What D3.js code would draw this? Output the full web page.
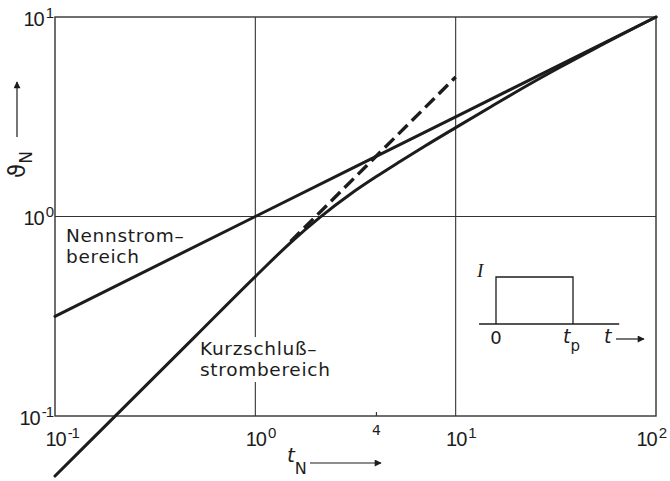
<!DOCTYPE html>
<html lang="de">
<head>
<meta charset="UTF-8">
<title>Erwärmung bei Rechteckimpuls</title>
<script src="https://d3js.org/d3.v7.min.js"></script>
<style>
  body { margin: 0; background: #fff; }
  svg { display: block; font-family: 'DejaVu Sans', sans-serif; }
</style>
</head>
<body>
<svg width="670" height="481"></svg>
<script>
// Achsen
const xTicks = [0.1, 1, 10, 100];
const xTickExp = ["-1", "0", "1", "2"];
const yTicks = [0.1, 1, 10];
const yTickExp = ["-1", "0", "1"];
const markTicks = [4];

// Nennstrombereich (Gerade)
const nennT = [0.1, 1, 10, 100];
const nennTheta = [0.316, 1, 3.16, 10];

// Kurzschlussstrombereich (Kurve)
const kurzT = [0.1, 0.5, 1, 1.5, 2.1, 3, 4, 5.25, 7, 10, 15, 23, 33, 50, 100];
const kurzTheta = [0.05, 0.25, 0.5, 0.74, 0.99, 1.3, 1.58, 1.88, 2.25, 2.79, 3.55, 4.56, 5.58, 6.98, 10];

// gestrichelte Verlängerung
const dashT = [1.5, 10];
const dashTheta = [0.75, 5];

// Einschub: Rechteckimpuls
const pulseT = [0, 0, 1, 1];
const pulseI = [0, 1, 1, 0];

const svg = d3.select("svg");

const x = d3.scaleLog().domain([0.1, 100]).range([55, 656]);
const y = d3.scaleLog().domain([0.1, 10]).range([416, 17]);

const ink = "#1c1c1c";

// arrow marker
svg.append("defs").append("marker")
    .attr("id", "arr")
    .attr("viewBox", "0 0 10 10")
    .attr("refX", 9).attr("refY", 5)
    .attr("markerWidth", 9).attr("markerHeight", 7)
    .attr("markerUnits", "userSpaceOnUse")
    .attr("orient", "auto")
    .append("path").attr("d", "M0,0 L10,5 L0,10 Z").attr("fill", ink);

// gridlines
const grid = svg.append("g").attr("stroke", "#333").attr("stroke-width", 1.1);
grid.selectAll(".vx").data([1, 10]).join("line")
    .attr("x1", d => x(d)).attr("x2", d => x(d))
    .attr("y1", y(10)).attr("y2", y(0.1));
grid.selectAll(".hy").data([1]).join("line")
    .attr("y1", d => y(d)).attr("y2", d => y(d))
    .attr("x1", x(0.1)).attr("x2", x(100));

// frame
svg.append("rect")
    .attr("x", x(0.1)).attr("y", y(10))
    .attr("width", x(100) - x(0.1)).attr("height", y(0.1) - y(10))
    .attr("fill", "none").attr("stroke", "#333").attr("stroke-width", 1.4);

// small tick at t = 4
const markAxis = d3.axisBottom(x).tickValues(markTicks).tickSize(-4).tickFormat(d => d);
const mg = svg.append("g").attr("transform", `translate(0,${y(0.1)})`).call(markAxis);
mg.select(".domain").remove();
mg.selectAll(".tick line").attr("stroke", "#333").attr("stroke-width", 1.2);
mg.selectAll(".tick text")
    .attr("y", 19).attr("dy", 0)
    .attr("font-family", "'DejaVu Sans', sans-serif")
    .attr("font-size", 14).attr("fill", ink);

// x tick labels
const xAxis = d3.axisBottom(x).tickValues(xTicks).tickSize(0).tickFormat("");
const xg = svg.append("g").attr("transform", `translate(0,${y(0.1)})`).call(xAxis);
xg.select(".domain").remove();
xg.selectAll(".tick").each(function (d, i) {
    const t = d3.select(this).select("text")
        .attr("y", 30).attr("dy", 0)
        .attr("text-anchor", "start")
        .attr("font-size", 20).attr("fill", ink)
        .attr("letter-spacing", -1);
    const base = t.append("tspan").text("10");
    t.append("tspan").attr("dy", -8).attr("font-size", 15).attr("dx", 2).text(xTickExp[i]);
    const w = base.node().getComputedTextLength();
    let off = -w / 2;
    if (i === xTicks.length - 1) off -= 10;
    t.attr("x", off);
});

// y tick labels
const yAxis = d3.axisLeft(y).tickValues(yTicks).tickSize(0).tickFormat("");
const yg = svg.append("g").attr("transform", `translate(${x(0.1)},0)`).call(yAxis);
yg.select(".domain").remove();
yg.selectAll(".tick").each(function (d, i) {
    const t = d3.select(this).select("text")
        .attr("x", -2).attr("y", 8).attr("dy", 0)
        .attr("text-anchor", "end")
        .attr("font-size", 20).attr("fill", ink)
        .attr("letter-spacing", -1);
    t.append("tspan").text("10");
    t.append("tspan").attr("dy", -8).attr("font-size", 15).attr("dx", 2).text(yTickExp[i]);
});

// curves
const line = d3.line()
    .x(d => x(d[0]))
    .y(d => y(d[1]))
    .curve(d3.curveMonotoneX);

svg.append("path")
    .datum(d3.zip(nennT, nennTheta))
    .attr("d", line)
    .attr("fill", "none").attr("stroke", ink).attr("stroke-width", 3)
    .attr("stroke-linecap", "round");

svg.append("path")
    .datum(d3.zip(kurzT, kurzTheta))
    .attr("d", line)
    .attr("fill", "none").attr("stroke", ink).attr("stroke-width", 3)
    .attr("stroke-linecap", "round");

svg.append("path")
    .datum(d3.zip(dashT, dashTheta))
    .attr("d", line.curve(d3.curveLinear))
    .attr("fill", "none").attr("stroke", ink).attr("stroke-width", 3.4)
    .attr("stroke-dasharray", "13,6");

// region labels, one text per line
function label(x0, y0, lines, knockout) {
    const g = svg.append("g");
    const texts = lines.map((s, i) => g.append("text")
        .attr("x", x0).attr("y", y0 + i * 21)
        .attr("font-size", 18.5).attr("letter-spacing", 0.7)
        .attr("fill", ink).text(s));
    if (knockout) {
        const boxes = texts.map(t => t.node().getBBox());
        const x1 = d3.min(boxes, b => b.x), y1 = d3.min(boxes, b => b.y);
        const x2 = d3.max(boxes, b => b.x + b.width), y2 = d3.max(boxes, b => b.y + b.height);
        g.insert("rect", "text")
            .attr("x", x1 - 2).attr("y", y1 - 1)
            .attr("width", x2 - x1 + 4).attr("height", y2 - y1 + 3)
            .attr("fill", "#fff");
    }
}
label(66, 242, ["Nennstrom–", "bereich"], false);
label(200, 355, ["Kurzschluß–", "strombereich"], true);

// axis titles
const xt = svg.append("text")
    .attr("x", 287).attr("y", 462)
    .attr("font-size", 20).attr("fill", ink);
xt.append("tspan").attr("font-style", "italic").text("t");
xt.append("tspan").attr("dy", 12).attr("font-size", 16).text("N");
svg.append("line")
    .attr("x1", 310).attr("x2", 381).attr("y1", 463).attr("y2", 463)
    .attr("stroke", ink).attr("stroke-width", 1.2)
    .attr("marker-end", "url(#arr)");

const yt = svg.append("text")
    .attr("transform", "translate(25,178) rotate(-90)")
    .attr("font-size", 23).attr("fill", ink);
yt.append("tspan").text("ϑ");
yt.append("tspan").attr("dy", 7).attr("font-size", 17).text("N");
svg.append("line")
    .attr("x1", 17).attr("x2", 17).attr("y1", 137).attr("y2", 82)
    .attr("stroke", ink).attr("stroke-width", 1.2)
    .attr("marker-end", "url(#arr)");

// inset: rectangular pulse
const px = d3.scaleLinear().domain([0, 1]).range([496, 573]);
const py = d3.scaleLinear().domain([0, 1]).range([324, 277]);
const inset = svg.append("g").attr("stroke", ink).attr("fill", "none");
inset.append("line")
    .attr("x1", px(-0.22)).attr("x2", px(1.6))
    .attr("y1", py(0)).attr("y2", py(0))
    .attr("stroke-width", 1.5);
inset.append("path")
    .datum(d3.zip(pulseT, pulseI))
    .attr("d", d3.line().x(d => px(d[0])).y(d => py(d[1])))
    .attr("stroke-width", 1.3);

svg.append("text").attr("x", 477).attr("y", 277)
    .attr("font-family", "'Liberation Serif', serif").attr("font-style", "italic")
    .attr("font-size", 19).attr("fill", ink).text("I");
svg.append("text").attr("x", px(0)).attr("y", 344)
    .attr("text-anchor", "middle")
    .attr("font-size", 18).attr("fill", ink).text("0");
const tp = svg.append("text").attr("x", px(1) - 10).attr("y", 343)
    .attr("font-size", 19).attr("fill", ink);
tp.append("tspan").attr("font-style", "italic").text("t");
tp.append("tspan").attr("dy", 8).attr("font-size", 15).text("p");
svg.append("text").attr("x", 604).attr("y", 343)
    .attr("font-size", 19).attr("font-style", "italic").attr("fill", ink).text("t");
svg.append("line")
    .attr("x1", 616).attr("x2", 644).attr("y1", 339).attr("y2", 339)
    .attr("stroke", ink).attr("stroke-width", 1.2)
    .attr("marker-end", "url(#arr)");
</script>
</body>
</html>
